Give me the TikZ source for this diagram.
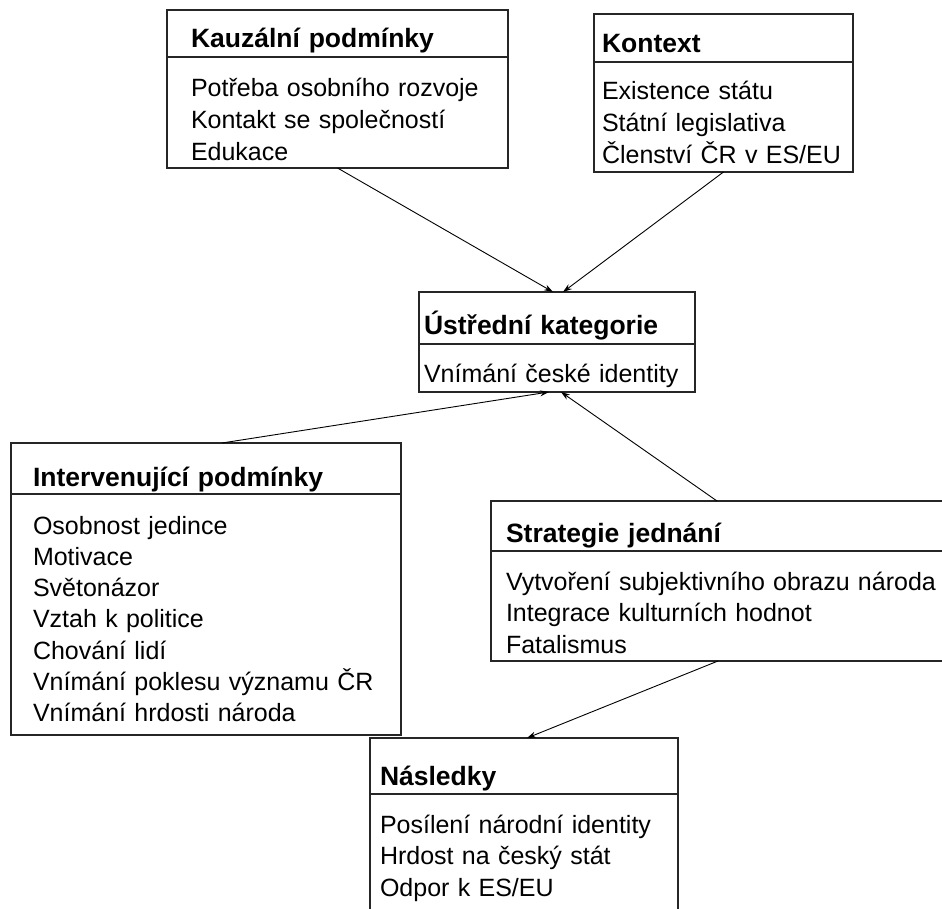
\documentclass[tikz,border=0pt]{standalone}
\usepackage{fontspec}
\setmainfont{Liberation Sans}
\usetikzlibrary{arrows.meta,positioning}
\tikzset{
  ramec/.style={draw=black!85, line width=1.3pt, outer sep=0pt, inner ysep=0pt, align=left},
  hlava/.style={ramec, anchor=north west, font=\fontsize{26.5}{31.8}\selectfont\bfseries},
  telo/.style={ramec, font=\fontsize{25}{31.8}\selectfont},
}

\begin{document}
\begin{tikzpicture}[x=1pt,y=-1pt,->,>={Stealth[length=9pt,width=6pt]},line width=0.9pt]
    \useasboundingbox (0,0) rectangle (942,909);

		\node[hlava, inner xsep=24pt, text width=293pt, text height=38pt, text depth=9pt] (kauzT) at (167,10) {Kauzální podmínky};
		\node[telo, inner xsep=24pt, text width=293pt, text height=39.5pt, text depth=71.5pt, below=0pt of kauzT] (kauzB)
            {Potřeba osobního rozvoje\\Kontakt se společností\\Edukace};

		\node[hlava, inner xsep=8pt, text width=243pt, text height=39pt, text depth=9pt] (kontT) at (594,14) {Kontext};
		\node[telo, inner xsep=8pt, text width=243pt, text height=38pt, text depth=72pt, below=0pt of kontT] (kontB)
            {Existence státu\\Státní legislativa\\Členství ČR v ES/EU};

		\node[hlava, inner xsep=5pt, text width=266pt, text height=42pt, text depth=10pt] (ustrT) at (419,292) {Ústřední kategorie};
		\node[telo, inner xsep=5pt, text width=266pt, text height=38.5pt, text depth=9.5pt, below=0pt of ustrT] (ustrB)
            {Vnímání české identity};

		\node[hlava, inner xsep=22pt, text width=346pt, text height=43pt, text depth=8pt] (intervT) at (11,443) {Intervenující podmínky};
		\node[telo, inner xsep=22pt, text width=346pt, text height=40pt, text depth=201pt, below=0pt of intervT,
              font=\fontsize{25}{31.3}\selectfont] (intervB)
            {Osobnost jedince\\Motivace\\Světonázor\\Vztah k politice\\Chování lidí\\Vnímání poklesu významu ČR\\Vnímání hrdosti národa};

		\node[hlava, inner xsep=15pt, text width=454pt, text height=41pt, text depth=9pt] (stratT) at (491,501) {Strategie jednání};
		\node[telo, inner xsep=15pt, text width=454pt, text height=39pt, text depth=71pt, below=0pt of stratT] (stratB)
            {Vytvoření subjektivního obrazu národa\\Integrace kulturních hodnot\\Fatalismus};

		\node[hlava, inner xsep=10pt, text width=288pt, text height=47pt, text depth=9pt] (naslT) at (370,738) {Následky};
		\node[telo, inner xsep=10pt, text width=288pt, text height=39pt, text depth=110pt, below=0pt of naslT] (naslB)
            {Posílení národní identity\\Hrdost na český stát\\Odpor k ES/EU};

		\path
            (kauzB.south) edge ([xshift=-4pt]ustrT.north)
            (kontB.south) edge ([xshift=6pt]ustrT.north)
            ([xshift=16pt]intervT.north) edge ([xshift=-8pt]ustrB.south)
            ([xshift=-16pt]stratT.north) edge ([xshift=4pt]ustrB.south)
            ([xshift=-15pt]stratB.south) edge ([xshift=3pt]naslT.north);
	\end{tikzpicture}
\end{document}
